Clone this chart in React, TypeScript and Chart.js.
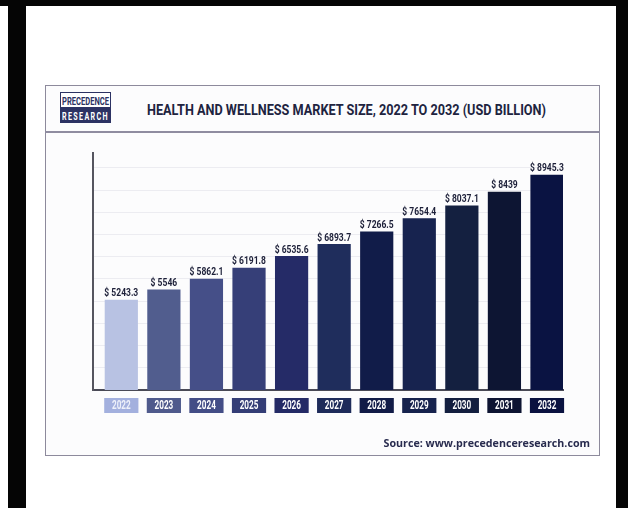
import React, { useEffect, useLayoutEffect, useRef } from "react";
import { Chart, registerables } from "chart.js";

Chart.register(...registerables);

// Health and wellness market size by year (USD billion)
const YEARS = ["2022", "2023", "2024", "2025", "2026", "2027", "2028", "2029", "2030", "2031", "2032"];
const MARKET_SIZE = [5243.3, 5546, 5862.1, 6191.8, 6535.6, 6893.7, 7266.5, 7654.4, 8037.1, 8439, 8945.3];

const BAR_COLORS = [
  "#b8c2e3", "#515d8e", "#454f88", "#363f78", "#252b67", "#1f2d5c",
  "#111c49", "#17234f", "#142040", "#0d1533", "#0a1342",
];
const YEAR_BOX_COLORS = [
  "#a3b0de", "#4f5a8c", "#434d86", "#343d76", "#242a66", "#1e2b5a",
  "#111b47", "#16224d", "#131e3f", "#0d1432", "#0a1240",
];
const YEAR_TEXT_COLORS = [
  "#eef1fa", "#ffffff", "#ffffff", "#ffffff", "#ffffff", "#ffffff",
  "#ffffff", "#ffffff", "#ffffff", "#ffffff", "#ffffff",
];

// Axis ranges
const Y_MIN = 2570;
const Y_MAX = 9590;
const GRID_STEP = 658;
const X_MIN = -0.665;
const X_MAX = 10.376;

const HEAVY = "Roboto, 'Noto Sans', sans-serif";

// Text squeezed horizontally to give a condensed look
function drawNarrow(ctx: CanvasRenderingContext2D, text: string, x: number, y: number, sx: number) {
  ctx.save();
  ctx.translate(x, y);
  ctx.scale(sx, 1);
  ctx.fillText(text, 0, 0);
  ctx.restore();
}

const barAnnotations = {
  id: "barAnnotations",
  afterDatasetsDraw(chart: any) {
    const { ctx, chartArea } = chart;
    const meta = chart.getDatasetMeta(0);
    ctx.save();
    ctx.textAlign = "center";
    meta.data.forEach((bar: any, i: number) => {
      // value above each bar
      ctx.font = `bold 11.5px ${HEAVY}`;
      ctx.fillStyle = "#1c1f38";
      ctx.textBaseline = "alphabetic";
      drawNarrow(ctx, `$ ${MARKET_SIZE[i]}`, bar.x, bar.y - 3.5, 0.74);

      // year box under the axis
      const half = bar.width / 2 + 0.5;
      const top = chartArea.bottom + 8;
      ctx.fillStyle = YEAR_BOX_COLORS[i];
      ctx.fillRect(bar.x - half, top, half * 2, 15);
      ctx.font = `bold 12px ${HEAVY}`;
      ctx.fillStyle = YEAR_TEXT_COLORS[i];
      ctx.textBaseline = "middle";
      drawNarrow(ctx, YEARS[i], bar.x, top + 8, 0.68);
    });
    ctx.restore();
  },
};

function MarketChart() {
  const ref = useRef<HTMLCanvasElement | null>(null);

  useEffect(() => {
    if (!ref.current) return;
    const chart = new Chart(ref.current, {
      type: "bar",
      data: {
        datasets: [
          {
            data: MARKET_SIZE.map((v, i) => ({ x: i, y: v })),
            backgroundColor: BAR_COLORS,
            borderWidth: 0,
            barPercentage: 0.78,
            categoryPercentage: 1,
          },
        ],
      },
      options: {
        responsive: false,
        animation: false,
        layout: { padding: { left: 93, right: 65, top: 153, bottom: 118 } },
        plugins: { legend: { display: false }, tooltip: { enabled: false } },
        scales: {
          x: {
            type: "linear",
            min: X_MIN,
            max: X_MAX,
            offset: false,
            afterBuildTicks: (axis: any) => {
              axis.ticks = YEARS.map((_, i) => ({ value: i }));
            },
            grid: { display: false, drawTicks: false },
            border: { display: true, color: "#4a4a56", width: 2 },
            ticks: { display: false },
          },
          y: {
            min: Y_MIN,
            max: Y_MAX,
            afterBuildTicks: (axis: any) => {
              const ticks = [];
              for (let v = Y_MIN; v <= Y_MAX - GRID_STEP / 2; v += GRID_STEP) ticks.push({ value: v });
              axis.ticks = ticks;
            },
            ticks: { display: false },
            grid: { color: "#ececf1", lineWidth: 1, drawTicks: false },
            border: { display: true, color: "#55555f", width: 2 },
          },
        },
      },
      plugins: [barAnnotations],
    } as any);
    return () => chart.destroy();
  }, []);

  return (
    <canvas
      ref={ref}
      width={628}
      height={508}
      style={{ position: "absolute", left: 0, top: 0, width: 628, height: 508 }}
    />
  );
}

// Single-line text squeezed to an exact width
function FitText({ text, width, style }: { text: string; width: number; style: React.CSSProperties }) {
  const ref = useRef<HTMLSpanElement | null>(null);
  useLayoutEffect(() => {
    const el = ref.current;
    if (!el) return;
    el.style.transform = "none";
    const w = el.getBoundingClientRect().width;
    if (w > 0) el.style.transform = `scaleX(${width / w})`;
  }, [text, width]);
  return (
    <span
      ref={ref}
      style={{ display: "inline-block", whiteSpace: "nowrap", transformOrigin: "left center", ...style }}
    >
      {text}
    </span>
  );
}

export default function App() {
  const abs = (s: React.CSSProperties): React.CSSProperties => ({ position: "absolute", ...s });
  return (
    <div
      style={{
        position: "fixed",
        left: 0,
        top: 0,
        width: 628,
        height: 508,
        background: "#ffffff",
        overflow: "hidden",
      }}
    >
      {/* frame edges */}
      <div style={abs({ left: 0, top: 0, width: 628, height: 6, background: "#050505" })} />
      <div style={abs({ left: 8, top: 0, width: 18, height: 508, background: "#050505" })} />
      <div style={abs({ left: 616, top: 0, width: 12, height: 508, background: "#050505" })} />

      {/* card */}
      <div
        style={abs({
          left: 45,
          top: 85,
          width: 555,
          height: 371,
          boxSizing: "border-box",
          border: "1px solid #8d8a9c",
          background: "#fcfcfd",
        })}
      />
      <div style={abs({ left: 45, top: 131, width: 555, height: 2, background: "#8f8ca0" })} />

      {/* logo */}
      <div
        style={abs({
          left: 60,
          top: 92,
          width: 51,
          height: 15,
          boxSizing: "border-box",
          border: "1px solid #2c3263",
          borderBottom: "none",
          background: "#ffffff",
        })}
      />
      <div style={abs({ left: 60, top: 107, width: 51, height: 16, background: "#2c3263" })} />
      <div style={abs({ left: 62, top: 93, height: 14, lineHeight: "14px" })}>
        <FitText
          text="PRECEDENCE"
          width={47}
          style={{ color: "#2c3263", font: `bold 10px ${HEAVY}`, lineHeight: "14px" }}
        />
      </div>
      <div style={abs({ left: 62, top: 107, height: 16, lineHeight: "16px" })}>
        <FitText
          text="RESEARCH"
          width={47}
          style={{ color: "#ffffff", font: `bold 10.5px ${HEAVY}`, lineHeight: "16px", letterSpacing: 2 }}
        />
      </div>

      {/* title */}
      <div style={abs({ left: 147, top: 101, height: 18, lineHeight: "18px" })}>
        <FitText
          text="HEALTH AND WELLNESS MARKET SIZE, 2022 TO 2032 (USD BILLION)"
          width={399}
          style={{ color: "#20233f", font: `bold 14px ${HEAVY}`, lineHeight: "18px" }}
        />
      </div>

      <MarketChart />

      {/* source */}
      <div
        style={abs({
          right: 38,
          top: 436,
          whiteSpace: "nowrap",
          color: "#282b4e",
          font: "bold 10.7px 'Open Sans', 'Noto Sans', sans-serif",
          lineHeight: "14px",
        })}
      >
        Source: www.precedenceresearch.com
      </div>
    </div>
  );
}
